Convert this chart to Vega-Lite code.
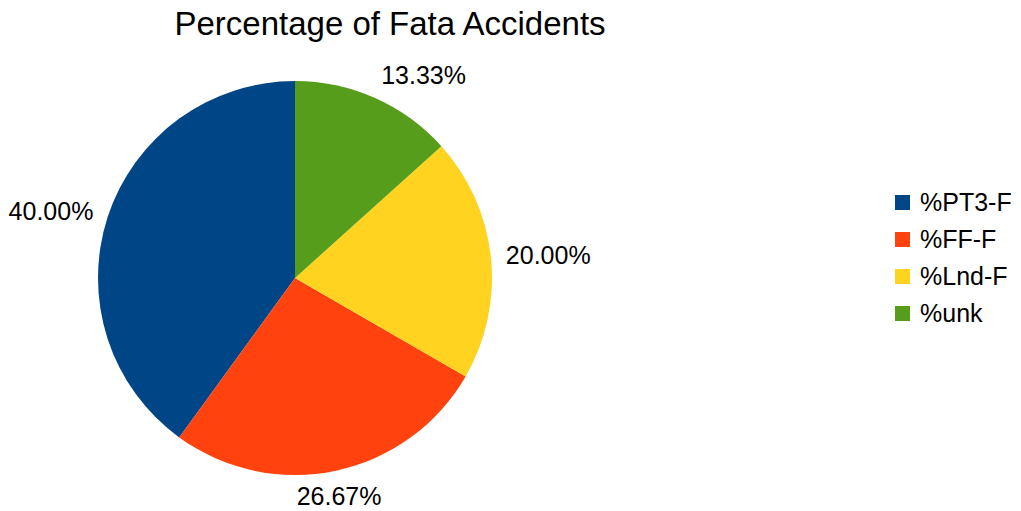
{
  "$schema": "https://vega.github.io/schema/vega-lite/v6.json",
  "width": 394,
  "height": 394,
  "autosize": "none",
  "padding": {"left": 98, "top": 81, "right": 529, "bottom": 36},
  "background": "white",
  "title": {
    "text": "Percentage of Fata Accidents",
    "font": "Liberation Sans",
    "fontSize": 33,
    "fontWeight": "normal",
    "color": "#000000",
    "anchor": "middle",
    "dx": 95,
    "offset": 22
  },
  "data": {
    "values": [
      {"cat": "%PT3-F", "pct": 0.4},
      {"cat": "%FF-F", "pct": 0.2667},
      {"cat": "%Lnd-F", "pct": 0.2},
      {"cat": "%unk", "pct": 0.1333}
    ]
  },
  "encoding": {
    "theta": {"field": "pct", "type": "quantitative", "stack": true},
    "order": {"field": "pct", "type": "quantitative", "sort": "ascending"}
  },
  "layer": [
    {
      "mark": {"type": "arc"},
      "encoding": {
        "color": {
          "field": "cat",
          "type": "nominal",
          "scale": {
            "domain": ["%PT3-F", "%FF-F", "%Lnd-F", "%unk"],
            "range": ["#004586", "#ff420e", "#ffd320", "#579d1c"]
          },
          "legend": {
            "title": null,
            "orient": "none",
            "legendX": 792,
            "legendY": 109,
            "symbolType": "square",
            "symbolSize": 225,
            "symbolStrokeWidth": 0,
            "labelFont": "Liberation Sans",
            "labelFontSize": 25,
            "labelColor": "#000000",
            "labelOffset": 5,
            "rowPadding": 11
          }
        }
      }
    },
    {
      "mark": {"type": "text", "radius": 212, "align": "left", "baseline": "alphabetic", "font": "Liberation Sans", "fontSize": 25, "color": "#000000"},
      "encoding": {
        "text": {"field": "pct", "type": "quantitative", "format": ".2%"},
        "opacity": {"condition": {"test": "datum.cat === '%unk'", "value": 1}, "value": 0}
      }
    },
    {
      "mark": {"type": "text", "radius": 212, "align": "left", "baseline": "middle", "font": "Liberation Sans", "fontSize": 25, "color": "#000000"},
      "encoding": {
        "text": {"field": "pct", "type": "quantitative", "format": ".2%"},
        "opacity": {"condition": {"test": "datum.cat === '%Lnd-F'", "value": 1}, "value": 0}
      }
    },
    {
      "mark": {"type": "text", "radius": 212, "align": "right", "baseline": "middle", "font": "Liberation Sans", "fontSize": 25, "color": "#000000"},
      "encoding": {
        "text": {"field": "pct", "type": "quantitative", "format": ".2%"},
        "opacity": {"condition": {"test": "datum.cat === '%PT3-F'", "value": 1}, "value": 0}
      }
    },
    {
      "mark": {"type": "text", "radius": 212, "align": "center", "baseline": "top", "font": "Liberation Sans", "fontSize": 25, "color": "#000000"},
      "encoding": {
        "text": {"field": "pct", "type": "quantitative", "format": ".2%"},
        "opacity": {"condition": {"test": "datum.cat === '%FF-F'", "value": 1}, "value": 0}
      }
    }
  ],
  "config": {"view": {"stroke": null}}
}
